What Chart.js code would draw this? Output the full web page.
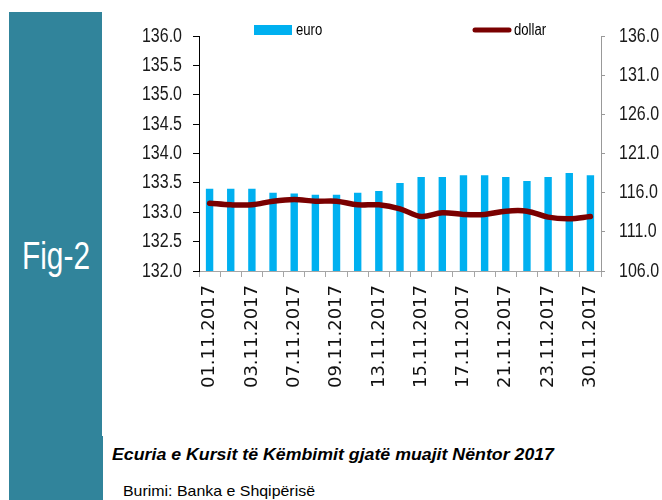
<!DOCTYPE html>
<html>
<head>
<meta charset="utf-8">
<script src="https://cdn.jsdelivr.net/npm/chart.js@4"></script>
<style>
  html, body { margin: 0; padding: 0; background: #fff; }
  body { width: 662px; height: 500px; position: relative; overflow: hidden; }
  #panel { position: absolute; left: 9px; top: 12px; width: 93px; height: 488px; background: #31849b; }
  #panel2 { position: absolute; left: 9px; top: 436px; width: 94px; height: 64px; background: #31849b; }
  .fit { position: absolute; white-space: nowrap; transform-origin: 0 0; font-family: "Liberation Sans", sans-serif; }
  #fig { left: 22px; top: 234px; color: #fff; font-size: 39px; }
  #wrap { position: absolute; left: 0; top: 0; width: 662px; height: 420px; }
  #title { left: 112px; top: 445px; font-weight: bold; font-style: italic; font-size: 17px; color: #000; }
  #source { left: 123px; top: 482px; font-size: 15px; color: #000; }
</style>
</head>
<body>
<div id="panel"></div>
<div id="panel2"></div>
<div id="fig" class="fit" data-w="68">Fig-2</div>
<div id="wrap"><canvas id="chart" width="662" height="420"></canvas></div>
<div id="title" class="fit" data-w="442">Ecuria e Kursit të Këmbimit gjatë muajit Nëntor 2017</div>
<div id="source" class="fit" data-w="192">Burimi: Banka e Shqipërisë</div>
<script>
// dates (working days of November 2017)
const dates = ['01.11.2017', '02.11.2017', '03.11.2017', '06.11.2017', '07.11.2017', '08.11.2017',
  '09.11.2017', '10.11.2017', '13.11.2017', '14.11.2017', '15.11.2017', '16.11.2017', '17.11.2017',
  '20.11.2017', '21.11.2017', '22.11.2017', '23.11.2017', '24.11.2017', '30.11.2017'];
// ALL per euro, left axis
const euro = [133.40, 133.40, 133.40, 133.33, 133.32, 133.30, 133.30, 133.33, 133.36, 133.50,
  133.60, 133.60, 133.63, 133.63, 133.60, 133.53, 133.60, 133.67, 133.63];
// ALL per dollar, right axis
const dollar = [114.66, 114.45, 114.45, 114.91, 115.13, 114.91, 114.91, 114.45, 114.45, 113.94,
  112.96, 113.43, 113.22, 113.22, 113.64, 113.64, 112.88, 112.67, 112.96];

// squeeze the html texts horizontally (no narrow font installed)
document.querySelectorAll('.fit').forEach(el => {
  const w = el.getBoundingClientRect().width;
  el.style.transform = 'scaleX(' + (el.dataset.w / w) + ')';
});

// narrow-looking text on the canvas
function narrowText(ctx, text, x, y, size, align, sx) {
  ctx.save();
  ctx.font = size + 'px "Liberation Sans", sans-serif';
  ctx.textBaseline = 'middle';
  ctx.textAlign = align;
  ctx.translate(x, y);
  ctx.scale(sx, 1);
  ctx.fillText(text, 0, 0);
  ctx.restore();
}

// y tick labels + legend drawn at the top like the original
const extras = {
  id: 'extras',
  afterDraw(chart) {
    const ctx = chart.ctx;
    ctx.fillStyle = '#1a1a1a';
    const yl = chart.scales.y, yr = chart.scales.y1;
    yl.ticks.forEach((t, i) => narrowText(ctx, t.value.toFixed(1), yl.right - 17, yl.getPixelForTick(i), 20, 'right', 0.8));
    yr.ticks.forEach((t, i) => narrowText(ctx, t.value.toFixed(1), yr.left + 18, yr.getPixelForTick(i), 20, 'left', 0.8));

    const ds = chart.data.datasets;
    const bar = ds.find(d => d.type === 'bar'), line = ds.find(d => d.type === 'line');
    ctx.save();
    ctx.fillStyle = bar.backgroundColor;
    ctx.fillRect(254, 25, 38, 10);
    ctx.strokeStyle = line.borderColor;
    ctx.lineWidth = 5;
    ctx.lineCap = 'round';
    ctx.beginPath();
    ctx.moveTo(475, 30);
    ctx.lineTo(509, 30);
    ctx.stroke();
    ctx.restore();
    ctx.fillStyle = '#000';
    narrowText(ctx, bar.label, 296, 31, 16, 'left', 0.82);
    narrowText(ctx, line.label, 514, 31, 16, 'left', 0.82);
  }
};

new Chart(document.getElementById('chart').getContext('2d'), {
  data: {
    labels: dates,
    datasets: [{
      type: 'bar',
      label: 'euro',
      data: euro,
      yAxisID: 'y',
      backgroundColor: '#00b0f0',
      barPercentage: 0.35,
      categoryPercentage: 1,
      order: 1
    }, {
      type: 'line',
      label: 'dollar',
      data: dollar,
      yAxisID: 'y1',
      borderColor: '#7a0000',
      borderWidth: 5.5,
      borderCapStyle: 'round',
      pointRadius: 0,
      tension: 0.35,
      order: 0
    }]
  },
  options: {
    responsive: false,
    animation: false,
    layout: { padding: { top: 36, left: 0, right: 0, bottom: 0 } },
    plugins: { legend: { display: false }, tooltip: { enabled: false } },
    scales: {
      x: {
        grid: { drawOnChartArea: false, color: '#a6a6a6', tickLength: 6, offset: true },
        border: { color: '#a6a6a6', width: 1 },
        ticks: {
          autoSkip: false, maxRotation: 90, minRotation: 90, padding: 8, color: '#111',
          font: { family: '"DejaVu Sans", sans-serif', size: 18 },
          callback: function (v, i) { return i % 2 === 0 ? dates[i] : ''; }
        },
        afterFit(scale) { scale.height = 149; }
      },
      y: {
        position: 'left', min: 132, max: 136,
        grid: { drawOnChartArea: false, color: '#000', tickLength: 6 },
        border: { color: '#000', width: 1 },
        ticks: { stepSize: 0.5, display: false },
        afterFit(scale) { scale.width = 199; }
      },
      y1: {
        position: 'right', min: 106, max: 136,
        grid: { drawOnChartArea: false, color: '#999', tickLength: 4 },
        border: { color: '#999', width: 1 },
        ticks: { stepSize: 5, display: false },
        afterFit(scale) { scale.width = 61; }
      }
    }
  },
  plugins: [extras]
});
</script>
</body>
</html>
